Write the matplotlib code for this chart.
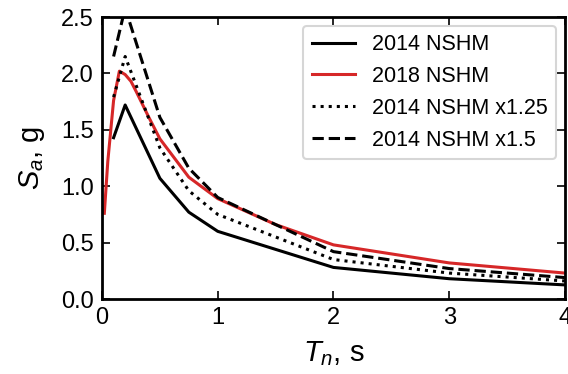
import matplotlib
matplotlib.use("Agg")
import matplotlib.pyplot as plt

# periods (s) and spectral accelerations (g)
t_2014 = [0.1, 0.2, 0.5, 0.75, 1.0, 2.0, 3.0, 4.0]
sa_2014 = [1.43, 1.72, 1.07, 0.77, 0.60, 0.28, 0.18, 0.125]

t_2018 = [0.02, 0.05, 0.1, 0.15, 0.2, 0.25, 0.3, 0.4, 0.5, 0.75, 1.0, 1.5, 2.0, 3.0, 4.0]
sa_2018 = [0.76, 1.22, 1.76, 2.02, 1.99, 1.93, 1.83, 1.62, 1.42, 1.08, 0.89, 0.66, 0.48, 0.32, 0.23]

sa_2014_125 = [1.79, 2.15, 1.34, 0.96, 0.75, 0.35, 0.23, 0.16]
sa_2014_15 = [2.15, 2.58, 1.61, 1.16, 0.90, 0.42, 0.27, 0.19]

plt.rcParams['font.family'] = ['Liberation Sans', 'DejaVu Sans']
plt.rcParams['mathtext.fontset'] = 'custom'
plt.rcParams['mathtext.rm'] = 'Liberation Sans'
plt.rcParams['mathtext.it'] = 'Liberation Sans:italic'

fig = plt.figure(figsize=(5.68, 3.74), dpi=100)
ax = fig.add_axes([0.1796, 0.2005, 0.815, 0.754])

ax.plot(t_2014, sa_2014, color='black', lw=2.2, label='2014 NSHM')
ax.plot(t_2018, sa_2018, color='#d62728', lw=2.2, label='2018 NSHM')
ax.plot(t_2014, sa_2014_125, color='black', lw=2.2, ls=':', label='2014 NSHM x1.25')
ax.plot(t_2014, sa_2014_15, color='black', lw=2.2, ls='--', label='2014 NSHM x1.5')

ax.set_xlim(0, 4)
ax.set_ylim(0, 2.5)
ax.set_xticks([0, 1, 2, 3, 4])
ax.set_yticks([0.0, 0.5, 1.0, 1.5, 2.0, 2.5])
ax.set_yticklabels(['0.0', '0.5', '1.0', '1.5', '2.0', '2.5'])
ax.tick_params(direction='in', top=True, right=True, length=6, width=1.2, labelsize=17, pad=6)
for s in ax.spines.values():
    s.set_linewidth(2)

ax.set_xlabel('$T_n$, s', fontsize=21, labelpad=7)
ax.set_ylabel('$S_a$, g', fontsize=21, labelpad=10)

leg = ax.legend(loc='upper right', fontsize=15.5, frameon=True, handlelength=2.0,
                labelspacing=0.5, borderaxespad=0.4)
leg.get_frame().set_linewidth(1.5)

fig.savefig('out.png', dpi=100)
